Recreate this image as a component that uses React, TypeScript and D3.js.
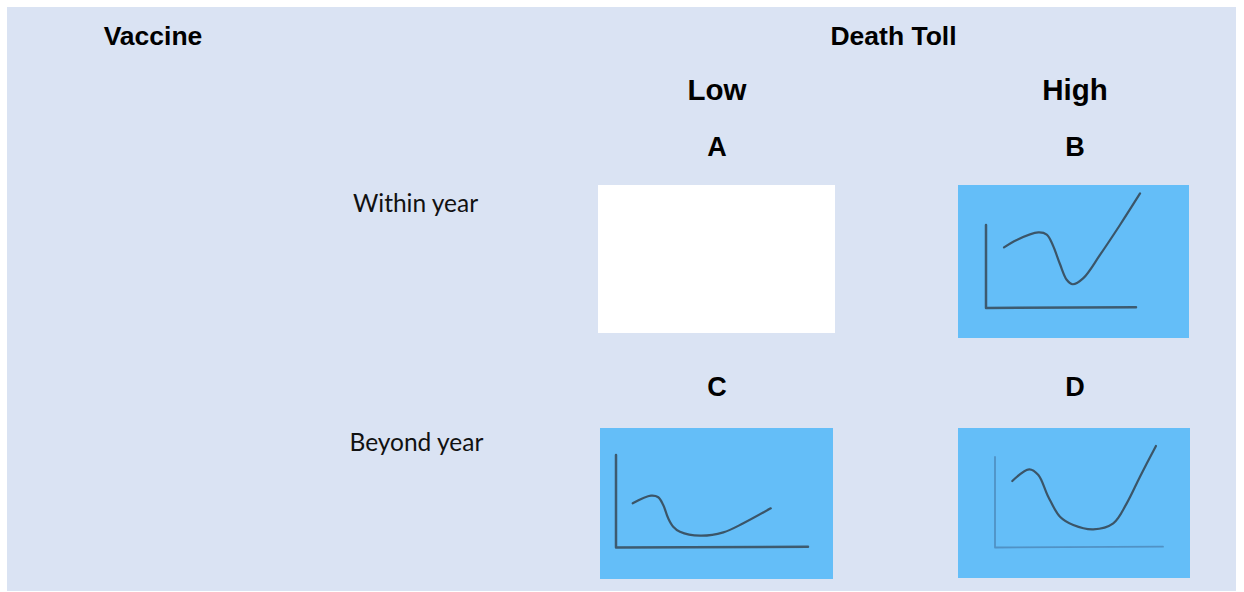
import React from "react";
import * as d3 from "d3";

// ---- Data ----
const columnHeaders = ["Low", "High"];
const rowLabels = ["Within year", "Beyond year"];
const panelLetters = ["A", "B", "C", "D"];

// sketched curves: [x, y] in each panel's own 0–100 axis units
const curveA: [number, number][] = [];
const curveB: [number, number][] = [
  [12, 73], [20.5, 82], [34.9, 91], [40.5, 88.5], [44.5, 76], [49.3, 53],
  [53.8, 34], [57.8, 28.6], [64.9, 36], [76, 64], [89.3, 100], [102.7, 138],
];
const curveC: [number, number][] = [
  [8.7, 47.8], [18.2, 56], [22, 54.3], [24.6, 45.9], [27.2, 31.6], [29.8, 22.5],
  [33.3, 17.1], [43.8, 12.8], [55.9, 16.4], [66.3, 26.2], [80.6, 42.4],
];
const curveD: [number, number][] = [
  [10.3, 73.5], [20.4, 86.4], [25.8, 80.1], [31.7, 56.1], [38.7, 34], [46.6, 24.9],
  [58.5, 20.1], [70.4, 26.7], [78.4, 48.8], [86.3, 78.2], [95.8, 112.2],
];
const curves = [curveA, curveB, curveC, curveD];

// ---- Layout ----
const W = 1244;
const H = 592;
const BG = "#dae3f3";
const PANEL_BLUE = "#64bef8";
const INK = "#3b5568";

type Panel = {
  x0: number; x1: number; y0: number; y1: number; fill: string;
  ax?: { ox: number; oy: number; xEnd: number; yTop: number; color: string; width: number };
};

const panels: Panel[] = [
  { x0: 598, x1: 835, y0: 185, y1: 333, fill: "#ffffff" },
  { x0: 958, x1: 1189, y0: 185, y1: 338, fill: PANEL_BLUE,
    ax: { ox: 986, oy: 308, xEnd: 1136, yTop: 225, color: INK, width: 2.5 } },
  { x0: 600, x1: 833, y0: 428, y1: 579, fill: PANEL_BLUE,
    ax: { ox: 616, oy: 547.5, xEnd: 808, yTop: 455, color: INK, width: 2.5 } },
  { x0: 958, x1: 1190, y0: 428, y1: 578, fill: PANEL_BLUE,
    ax: { ox: 995, oy: 547.5, xEnd: 1163, yTop: 457, color: "#4f8fc2", width: 1.8 } },
];

const headFont = "'Liberation Sans', Arial, sans-serif";
const bodyFont = "Lato, 'Noto Sans', sans-serif";

export default function App() {
  const colX = [717, 1075];
  const letterPos = [
    [colX[0], 155.5], [colX[1], 155.5], [colX[0], 395.5], [colX[1], 395.5],
  ];
  return (
    <svg
      width={W}
      height={H}
      style={{ position: "absolute", left: 0, top: 0, display: "block" }}
    >
      <rect x={0} y={0} width={W} height={H} fill="#ffffff" />
      <rect x={7} y={7} width={1229} height={584} fill={BG} />

      <text x={153} y={45} textAnchor="middle" fontFamily={headFont}
        fontWeight="bold" fontSize={26.5} fill="#000">Vaccine</text>
      <text x={893.5} y={45} textAnchor="middle" fontFamily={headFont}
        fontWeight="bold" fontSize={26.5} fill="#000">Death Toll</text>

      {columnHeaders.map((h, i) => (
        <text key={h} x={colX[i]} y={99.5} textAnchor="middle" fontFamily={headFont}
          fontWeight="bold" fontSize={29.5} fill="#000">{h}</text>
      ))}

      {panelLetters.map((l, i) => (
        <text key={l} x={letterPos[i][0]} y={letterPos[i][1]} textAnchor="middle"
          fontFamily={headFont} fontWeight="bold" fontSize={27} fill="#000">{l}</text>
      ))}

      {rowLabels.map((r, i) => (
        <text key={r} x={i === 0 ? 353 : 349.5} y={i === 0 ? 211.5 : 450.5}
          fontFamily={bodyFont} fontSize={24.5} fill="#111">{r}</text>
      ))}

      {panels.map((p, i) => {
        const curve = curves[i];
        let axes = null;
        let path = null;
        if (p.ax) {
          const a = p.ax;
          const xs = d3.scaleLinear().domain([0, 100]).range([a.ox, a.xEnd]);
          const ys = d3.scaleLinear().domain([0, 100]).range([a.oy, a.yTop]);
          const line = d3
            .line<[number, number]>()
            .x((d) => xs(d[0]))
            .y((d) => ys(d[1]))
            .curve(d3.curveCatmullRom.alpha(0.5));
          axes = (
            <path
              d={`M${xs(0)},${ys(100)}L${xs(0)},${ys(0)}L${xs(100)},${ys(0) - 0.8}`}
              fill="none" stroke={a.color} strokeWidth={a.width}
              strokeLinejoin="round" strokeLinecap="round" opacity={0.95}
            />
          );
          if (curve.length) {
            path = (
              <path d={line(curve) || ""} fill="none" stroke={INK}
                strokeWidth={2.2} strokeLinecap="round" />
            );
          }
        }
        return (
          <g key={i}>
            <rect x={p.x0} y={p.y0} width={p.x1 - p.x0} height={p.y1 - p.y0} fill={p.fill} />
            {axes}
            {path}
          </g>
        );
      })}
    </svg>
  );
}
